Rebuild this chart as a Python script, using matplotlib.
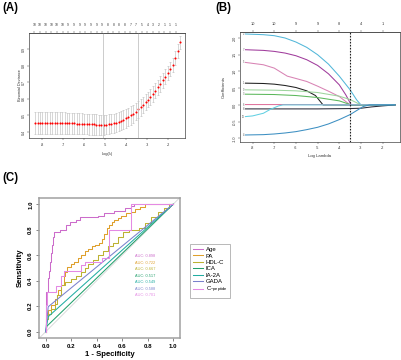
import numpy as np
import matplotlib
matplotlib.use('Agg')
import matplotlib.pyplot as plt

plt.rcParams['font.family'] = ['Liberation Sans', 'DejaVu Sans']
plt.rcParams['axes.unicode_minus'] = False

W, H = 401, 360

## (A) cross-validated deviance along the lambda path

log_lambda = np.linspace(-8.33, -1.43, 60)
deviance = [0.455, 0.455, 0.455, 0.455, 0.455, 0.455, 0.455, 0.454, 0.454, 0.454,
            0.454, 0.453, 0.453, 0.453, 0.452, 0.452, 0.452, 0.451, 0.450, 0.450,
            0.449, 0.448, 0.447, 0.446, 0.446, 0.445, 0.445, 0.444, 0.444, 0.445,
            0.447, 0.450, 0.453, 0.457, 0.462, 0.468, 0.475, 0.482, 0.491, 0.500,
            0.511, 0.523, 0.536, 0.550, 0.564, 0.580, 0.596, 0.613, 0.631, 0.650,
            0.670, 0.690, 0.711, 0.733, 0.756, 0.780, 0.806, 0.845, 0.890, 0.940]
deviance_sd = [0.065, 0.065, 0.065, 0.065, 0.065, 0.065, 0.065, 0.065, 0.065, 0.065,
               0.065, 0.065, 0.065, 0.064, 0.064, 0.064, 0.064, 0.063, 0.063, 0.063,
               0.062, 0.062, 0.062, 0.061, 0.061, 0.061, 0.060, 0.060, 0.060, 0.059,
               0.059, 0.058, 0.058, 0.058, 0.057, 0.057, 0.056, 0.056, 0.055, 0.055,
               0.054, 0.053, 0.052, 0.051, 0.050, 0.049, 0.048, 0.048, 0.047, 0.047,
               0.046, 0.046, 0.045, 0.045, 0.044, 0.044, 0.043, 0.042, 0.041, 0.040]
nzero_a = [10, 10, 10, 10, 10, 10, 9, 9, 9, 9, 9, 9, 9, 8, 8, 8, 8, 7, 7, 5, 4, 3, 2, 1, 1, 1]
nzero_a_pos = np.linspace(-8.37, -1.63, len(nzero_a))
lambda_min = -5.1
lambda_1se = -3.45

## (B) coefficient paths

cyan_x = [-8.33, -7.5, -7.0, -6.5, -6.0, -5.5, -5.0, -4.5, -4.0, -3.5, -3.2, -3.0, -1.43]
cyan_y = [2.12, 2.10, 2.07, 2.00, 1.88, 1.72, 1.50, 1.22, 0.86, 0.45, 0.15, 0.0, 0.0]
purple_x = [-8.33, -7.5, -7.0, -6.5, -6.0, -5.5, -5.0, -4.5, -4.0, -3.7, -3.45, -1.43]
purple_y = [1.65, 1.63, 1.60, 1.55, 1.47, 1.35, 1.18, 0.93, 0.60, 0.30, 0.0, 0.0]
pink_x = [-8.33, -7.5, -7.0, -6.7, -6.4, -6.0, -5.5, -5.0, -4.5, -4.0, -3.5, -1.43]
pink_y = [1.27, 1.20, 1.10, 0.98, 0.86, 0.79, 0.70, 0.56, 0.41, 0.25, 0.0, 0.0]
black_x = [-8.33, -7.5, -7.0, -6.5, -6.0, -5.5, -5.1, -4.85, -4.75, -1.43]
black_y = [0.65, 0.64, 0.62, 0.58, 0.52, 0.42, 0.28, 0.08, 0.0, 0.0]
lgreen_x = [-8.33, -7.0, -6.0, -5.0, -4.0, -3.5, -3.0, -1.43]
lgreen_y = [0.45, 0.44, 0.42, 0.37, 0.26, 0.16, 0.0, 0.0]
green_x = [-8.33, -7.0, -6.0, -5.0, -4.0, -3.45, -1.43]
green_y = [0.32, 0.31, 0.28, 0.22, 0.12, 0.0, 0.0]
red_x = [-8.33, -3.5, -1.43]
red_y = [0.01, 0.01, 0.0]
dark_x = [-8.33, -5.0, -3.5, -3.0, -2.5, -2.0, -1.5, -1.43]
dark_y = [-0.12, -0.12, -0.11, -0.10, -0.06, -0.03, -0.005, 0.0]
lcyan_x = [-8.33, -8.0, -7.5, -7.2, -6.8, -6.6, -1.43]
lcyan_y = [-0.35, -0.33, -0.25, -0.14, -0.03, 0.0, 0.0]
blue_x = [-8.33, -7.5, -7.0, -6.5, -6.0, -5.5, -5.0, -4.5, -4.0, -3.5, -3.2, -2.9, -2.6, -1.43]
blue_y = [-0.90, -0.89, -0.87, -0.84, -0.80, -0.74, -0.67, -0.57, -0.44, -0.29, -0.17, -0.05, 0.0, 0.0]
var_ids = ['2', '7', '5', '1', '9', '3', '6', '8', '10', '4']
nzero_b = [10, 10, 9, 9, 8, 4, 1]
nzero_b_pos = [-8, -7, -6, -5, -4, -3, -2]
lambda_cut = -3.5

## (C) ROC curves

names = ['Age', 'PA', 'HDL-C', 'ICA', 'IA-2A', 'GADA', 'C-peptide']
auc = [0.898, 0.722, 0.667, 0.517, 0.549, 0.588, 0.701]
age_fpr = [0, 0.005, 0.02, 0.026, 0.035, 0.045, 0.052, 0.058, 0.066, 0.11, 0.16,
           0.19, 0.24, 0.27, 0.41, 0.46, 0.54, 0.62, 0.67, 0.69, 1.0]
age_tpr = [0, 0.29, 0.31, 0.42, 0.48, 0.55, 0.62, 0.68, 0.74, 0.78, 0.80,
           0.84, 0.86, 0.88, 0.90, 0.91, 0.93, 0.95, 0.97, 0.99, 1.0]
pa_fpr = [0, 0.02, 0.04, 0.07, 0.09, 0.10, 0.12, 0.14, 0.15, 0.17, 0.20, 0.22,
          0.25, 0.28, 0.31, 0.33, 0.36, 0.39, 0.42, 0.44, 0.46, 0.48, 0.50, 0.52,
          0.54, 0.57, 0.59, 0.63, 0.67, 0.70, 0.74, 0.78, 0.83, 1.0]
pa_tpr = [0, 0.13, 0.17, 0.21, 0.26, 0.29, 0.33, 0.37, 0.44, 0.47, 0.51, 0.53,
          0.55, 0.58, 0.60, 0.63, 0.65, 0.67, 0.68, 0.70, 0.73, 0.77, 0.81, 0.84,
          0.86, 0.88, 0.89, 0.91, 0.93, 0.94, 0.96, 0.98, 1.0, 1.0]
hdl_fpr = [0, 0.02, 0.04, 0.07, 0.09, 0.12, 0.15, 0.20, 0.24, 0.28, 0.31, 0.33,
           0.37, 0.41, 0.45, 0.49, 0.53, 0.57, 0.61, 0.65, 0.73, 0.78, 0.83, 0.88,
           0.93, 0.97, 1.0]
hdl_tpr = [0, 0.10, 0.14, 0.18, 0.22, 0.29, 0.37, 0.39, 0.41, 0.44, 0.47, 0.50,
           0.53, 0.56, 0.60, 0.63, 0.67, 0.70, 0.74, 0.78, 0.80, 0.81, 0.85, 0.90,
           0.94, 0.97, 1.0]
ica_fpr = [0, 0.01, 1.0]
ica_tpr = [0, 0.044, 1.0]
ia2a_fpr = [0, 0.02, 1.0]
ia2a_tpr = [0, 0.118, 1.0]
gada_fpr = [0, 0.02, 1.0]
gada_tpr = [0, 0.196, 1.0]
cpep_fpr = [0, 0.01, 0.02, 0.08, 0.12, 0.14, 0.28, 0.31, 0.44, 0.50, 0.67, 1.0]
cpep_tpr = [0, 0.21, 0.31, 0.31, 0.36, 0.44, 0.48, 0.52, 0.55, 0.58, 0.80, 1.0]
roc_colors = ['#cc6ccb', '#dfa02c', '#bdb232', '#23a06c', '#22ada2', '#7a82cc', '#e48ae4']


def px_box(left, top, right, bottom):
    return [left / W, 1 - bottom / H, (right - left) / W, (bottom - top) / H]


fig = plt.figure(figsize=(W / 100, H / 100), dpi=100)

## ---- panel A
ax = fig.add_axes(px_box(29, 33, 185, 138))
ax.errorbar(log_lambda, deviance, yerr=deviance_sd, fmt='none', ecolor='#b8b8b8',
            elinewidth=0.4, capsize=0.6, capthick=0.4)
ax.plot(log_lambda, deviance, 'o', color='red', ms=1.5, mew=0)
ax.axvline(lambda_min, color='#c4c4c4', lw=0.6)
ax.axvline(lambda_1se, color='#c4c4c4', lw=0.6)
ax.set_xlim(-8.62, -1.19)
ax.set_ylim(0.364, 0.997)
ax.set_xticks([-8, -7, -6, -5, -4, -3, -2])
ax.set_yticks([0.4, 0.5, 0.6, 0.7, 0.8, 0.9])
ax.set_yticklabels(['0.4', '0.5', '0.6', '0.7', '0.8', '0.9'], rotation=90, va='center')
ax.tick_params(labelsize=2.6, length=1.2, width=0.3, pad=1.2, colors='#333333')
ax.tick_params(axis='x', pad=2.4)
ax.set_xlabel('Log(λ)', fontsize=2.8, color='#333333')
ax.set_ylabel('Binomial Deviance', fontsize=2.8, color='#333333')
ax.xaxis.set_label_coords(0.5, -0.135)
ax.yaxis.set_label_coords(-0.045, 0.5)
top = ax.secondary_xaxis('top')
top.set_xticks(nzero_a_pos, labels=[str(n) for n in nzero_a])
top.tick_params(labelsize=2.4, length=1.2, width=0.3, pad=3.2, colors='#333333')
for s in list(ax.spines.values()) + list(top.spines.values()):
    s.set_linewidth(0.5)
    s.set_color('#444444')

## ---- panel B
bx = fig.add_axes(px_box(240, 32, 400, 142))
paths = [(cyan_x, cyan_y, '#52b7d9'), (purple_x, purple_y, '#a03c9c'),
         (pink_x, pink_y, '#d883b4'), (black_x, black_y, '#202020'),
         (lgreen_x, lgreen_y, '#9dd49d'), (green_x, green_y, '#5cb85c'),
         (red_x, red_y, '#e0729c'), (dark_x, dark_y, '#2a2a38'),
         (lcyan_x, lcyan_y, '#62d0e2'), (blue_x, blue_y, '#3c8fc2')]
for (xs, ys, c), vid in zip(paths, var_ids):
    bx.plot(xs, ys, color=c, lw=0.75)
    bx.text(-8.43, ys[0], vid, fontsize=1.8, color='#555555', ha='center', va='center')
bx.axvline(lambda_cut, color='#222222', lw=0.8, ls=(0, (1.5, 1.2)))
bx.set_xlim(-8.58, -1.2)
bx.set_ylim(-1.11, 2.18)
bx.set_xticks(nzero_b_pos)
bx.set_yticks([-1.0, -0.5, 0.0, 0.5, 1.0, 1.5, 2.0])
bx.set_yticklabels(['-1.0', '-0.5', '0.0', '0.5', '1.0', '1.5', '2.0'], rotation=90, va='center')
bx.tick_params(labelsize=2.7, length=1.2, width=0.3, pad=1.0, colors='#333333')
bx.tick_params(axis='x', pad=1.8)
bx.set_xlabel('Log Lambda', fontsize=3.1, color='#333333')
bx.set_ylabel('Coefficients', fontsize=3.1, color='#333333')
bx.xaxis.set_label_coords(0.5, -0.11)
bx.yaxis.set_label_coords(-0.09, 0.5)
btop = bx.secondary_xaxis('top')
btop.set_xticks(nzero_b_pos, labels=[str(n) for n in nzero_b])
btop.tick_params(labelsize=2.8, length=1.2, width=0.3, pad=3.4, colors='#333333')
for s in list(bx.spines.values()) + list(btop.spines.values()):
    s.set_linewidth(0.5)
    s.set_color('#444444')

## ---- panel C
cx = fig.add_axes(px_box(39.3, 197.9, 179.5, 338.1))
cx.plot([-0.05, 1.05], [-0.05, 1.05], color='#d6d6d6', lw=0.6)
roc = [(age_fpr, age_tpr, 'steps-pre'), (pa_fpr, pa_tpr, 'steps-pre'),
       (hdl_fpr, hdl_tpr, 'steps-pre'), (ica_fpr, ica_tpr, 'default'),
       (ia2a_fpr, ia2a_tpr, 'default'), (gada_fpr, gada_tpr, 'default'),
       (cpep_fpr, cpep_tpr, 'steps-pre')]
handles = []
for (fx, ty, ds), c, n in zip(roc, roc_colors, names):
    h, = cx.plot(fx, ty, color=c, lw=0.75, drawstyle=ds, label=n)
    handles.append(h)
for i, (a, c) in enumerate(zip(auc, roc_colors)):
    cx.text(0.70, 0.594 - 0.051 * i, 'AUC: %.3f' % a, color=c, fontsize=2.8,
            ha='left', va='center')
cx.set_xlim(-0.05, 1.05)
cx.set_ylim(-0.05, 1.05)
ticks = [0.0, 0.2, 0.4, 0.6, 0.8, 1.0]
cx.set_xticks(ticks)
cx.set_xticklabels(['%.1f' % t for t in ticks], fontweight='bold')
cx.set_yticks(ticks)
cx.set_yticklabels(['%.1f' % t for t in ticks], fontweight='bold', rotation=90, va='center')
cx.tick_params(labelsize=4.4, length=2.0, width=0.5, pad=2.4, color='#555555')
cx.set_xlabel('1 - Specificity', fontsize=5.6, fontweight='bold')
cx.set_ylabel('Sensitivity', fontsize=5.6, fontweight='bold')
cx.xaxis.set_label_coords(0.5, -0.095)
cx.yaxis.set_label_coords(-0.113, 0.5)
for s in cx.spines.values():
    s.set_linewidth(1.1)
    s.set_color('#a0a0a0')

leg = cx.legend(handles, ['Age', 'PA', 'HDL-C', 'ICA', 'IA-2A', 'GADA', r'C-$\mathregular{_{peptide}}$'],
                loc='upper left', bbox_to_anchor=(190 / W, 1 - 244 / H),
                bbox_transform=fig.transFigure, fontsize=4.3, frameon=True,
                fancybox=False, borderpad=0.5, labelspacing=0.2, handlelength=1.6,
                handletextpad=0.5, borderaxespad=0)
leg.get_frame().set_edgecolor('#999999')
leg.get_frame().set_linewidth(0.6)

## panel letters
fig.text(2 / W, 1 - 2 / H, '(A)', fontsize=8.3, fontweight='bold', va='top', ha='left')
fig.text(215 / W, 1 - 2 / H, '(B)', fontsize=8.3, fontweight='bold', va='top', ha='left')
fig.text(2 / W, 1 - 172 / H, '(C)', fontsize=8.3, fontweight='bold', va='top', ha='left')

fig.savefig('out.png', dpi=100)
